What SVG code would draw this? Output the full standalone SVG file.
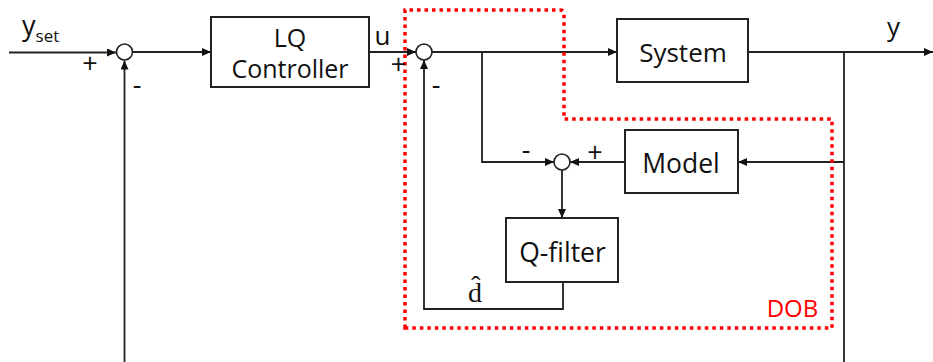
<svg xmlns="http://www.w3.org/2000/svg" width="933" height="362" viewBox="0 0 933 362">
<style>
.box{fill:#fff;stroke:#222;stroke-width:2}
.sum{fill:#fff;stroke:#222;stroke-width:1.6}
.ln{fill:none;stroke:#222;stroke-width:1.8}
.t{font-family:"Open Sans","Noto Sans CJK KR",sans-serif;fill:#111;text-anchor:middle}
.s{font-family:"Open Sans","Noto Sans CJK KR",sans-serif;fill:#111;font-size:27px;text-anchor:middle}
</style>
<defs>
<marker id="ah" markerWidth="9" markerHeight="8" refX="9" refY="4" orient="auto" markerUnits="userSpaceOnUse">
<path d="M0,0 L9,4 L0,8 Z" fill="#111"/>
</marker>
</defs>
<rect width="933" height="362" fill="#fff"/>
<g id="connectors">
<path class="ln" d="M9,52.5 H116" marker-end="url(#ah)"/>
<path class="ln" d="M132.5,52 H211" marker-end="url(#ah)"/>
<path class="ln" d="M369,52 H416" marker-end="url(#ah)"/>
<path class="ln" d="M432,52 H617" marker-end="url(#ah)"/>
<path class="ln" d="M748,52 H933" marker-end="url(#ah)"/>
<path class="ln" d="M844,52 V362"/>
<path class="ln" d="M124.5,362 V60.5" marker-end="url(#ah)"/>
<path class="ln" d="M482,52 V162 H554" marker-end="url(#ah)"/>
<path class="ln" d="M844,162 H738" marker-end="url(#ah)"/>
<path class="ln" d="M625,162 H570" marker-end="url(#ah)"/>
<path class="ln" d="M562,170 V218" marker-end="url(#ah)"/>
<path class="ln" d="M563,282 V309 H424 V60" marker-end="url(#ah)"/>
</g>
<g id="sum1"><circle class="sum" cx="124.5" cy="52" r="8"/></g>
<g id="sum2"><circle class="sum" cx="424" cy="52" r="8"/></g>
<g id="sum3"><circle class="sum" cx="562" cy="162" r="8"/></g>
<g id="lq">
<rect class="box" x="211" y="17" width="158" height="70"/>
<text class="t" x="290" y="47" font-size="25">LQ</text>
<text class="t" x="290" y="78" font-size="25">Controller</text>
</g>
<g id="system">
<rect class="box" x="617" y="19" width="131" height="63"/>
<text class="t" x="683" y="62" font-size="26">System</text>
</g>
<g id="model">
<rect class="box" x="625" y="130" width="113" height="63"/>
<text class="t" x="681" y="173" font-size="26.5">Model</text>
</g>
<g id="qfilter">
<rect class="box" x="506" y="218" width="112" height="64"/>
<text class="t" x="562.5" y="262" font-size="26.5">Q-filter</text>
</g>
<g id="dob">
<path d="M405,328 V10 H560 Q564,10 564,14 V119 H832 V328 Z" fill="none" stroke="#ff0000" stroke-width="3.5" stroke-dasharray="3.5 4"/>
<text x="792.5" y="317" font-family="'Open Sans','Noto Sans CJK KR',sans-serif" font-size="24" fill="#ff0000" text-anchor="middle">DOB</text>
</g>
<g id="labels">
<text x="22" y="35" font-family="'Open Sans','Noto Sans CJK KR',sans-serif" font-size="27" fill="#111">y<tspan font-size="17" dy="6.5">set</tspan></text>
<text class="t" x="382.5" y="45" font-size="26">u</text>
<text class="t" x="893.5" y="36" font-size="26">y</text>
<text x="475" y="302" font-family="'Liberation Serif','DejaVu Serif',serif" font-size="28" fill="#111" text-anchor="middle">d̂</text>
<text class="s" x="90" y="72.5">+</text>
<text class="s" x="137" y="94">-</text>
<text class="s" x="398.5" y="73.5">+</text>
<text class="s" x="436" y="94">-</text>
<text class="s" x="526" y="159">-</text>
<text class="s" x="595" y="161.5">+</text>
</g>
</svg>
